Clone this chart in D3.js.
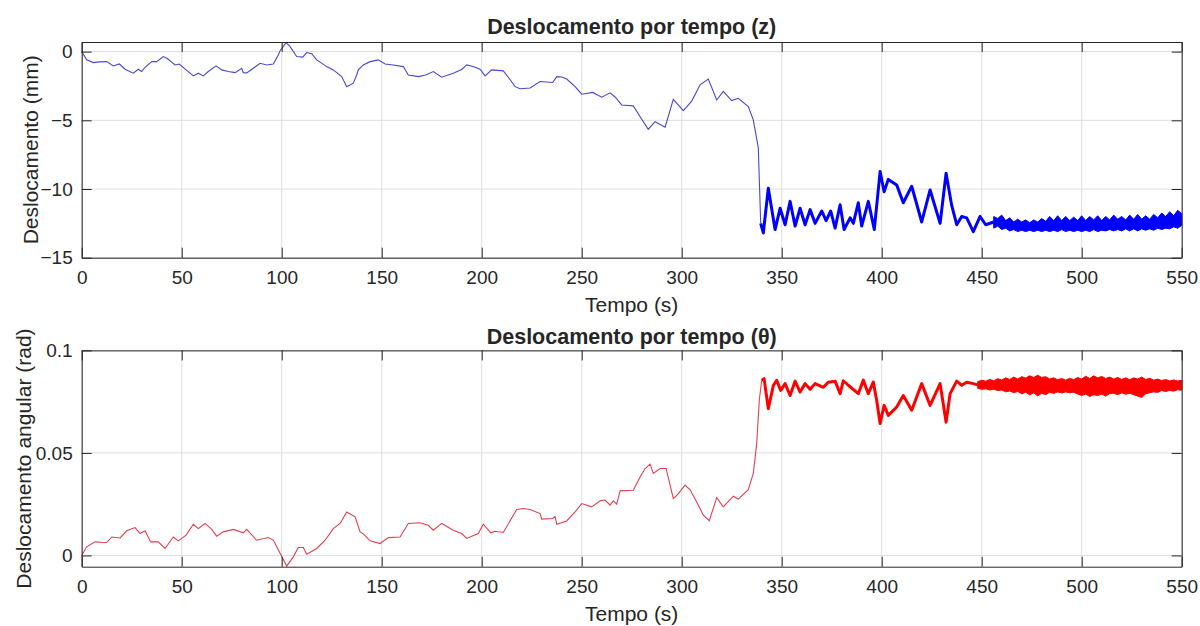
<!DOCTYPE html>
<html>
<head>
<meta charset="utf-8">
<script src="https://cdn.jsdelivr.net/npm/d3@7"></script>
<style>
  body { margin: 0; background: #fff; }
  text { font-family: "Liberation Sans", Arial, sans-serif; fill: #262626; }
</style>
</head>
<body>
<script>
var width = 1200
var height = 626

// x ticks shared by both panels
var xTicks = [0, 50, 100, 150, 200, 250, 300, 350, 400, 450, 500, 550]

// ---- panel 1 : z (mm) ----
// slow drift part, thin line
var zT = [0, 2.5, 5.8, 9, 12.5, 15.8, 18.8, 21.7, 25.8, 28.3, 30, 31.7, 35, 37.5, 40.8, 42.8, 46.7, 48.8, 52.2, 55.8, 58.3, 60.8, 63.3, 67.2, 70, 73.3, 76.7, 80, 80.8, 82.5, 85.8, 89.2, 92.5, 95.8, 98.3, 99.2, 102.2, 104.2, 107.5, 110.5, 112.5, 115, 117.5, 122.5, 125.8, 130, 132.5, 135.8, 137.5, 138.3, 140.8, 144.2, 148.3, 151.7, 155.8, 160.8, 163.3, 168.3, 172, 175.8, 180, 185.8, 190, 192.5, 196, 199.2, 201.7, 205, 210.8, 213.5, 216.7, 219.2, 224.2, 229.2, 235.5, 237.5, 240, 242.5, 246.7, 250, 255.5, 260, 264.2, 266.7, 270, 275.8, 280, 283.3, 286.7, 291.7, 295.8, 300.8, 305, 309.2, 313.3, 317.5, 320.8, 325, 328.3, 333.3, 335.8, 338.3, 339.5]
var zV = [0, -0.6, -0.8, -0.75, -0.73, -1.04, -0.9, -1.28, -1.57, -1.28, -1.45, -1.14, -0.73, -0.73, -0.36, -0.5, -0.97, -0.9, -1.33, -1.77, -1.57, -1.77, -1.45, -1.04, -1.33, -1.45, -1.53, -1.21, -1.53, -1.55, -1.21, -0.85, -0.97, -0.9, -0.24, 0.07, 0.65, 0.36, -0.36, -0.4, -0.07, -0.15, -0.6, -1.09, -1.33, -1.82, -2.55, -2.3, -1.7, -1.33, -0.97, -0.73, -0.6, -0.9, -0.97, -1.09, -1.7, -1.82, -1.7, -1.45, -1.86, -1.57, -1.3, -0.97, -1.1, -1.28, -1.77, -1.33, -1.4, -1.9, -2.55, -2.7, -2.65, -2.18, -2.25, -1.82, -1.85, -2.0, -2.55, -3.1, -2.97, -3.32, -3.0, -3.3, -3.88, -3.95, -4.92, -5.65, -5.1, -5.5, -3.47, -4.29, -3.6, -2.42, -2.0, -3.52, -2.9, -3.56, -3.4, -4.0, -4.97, -7.0, -12.5]
// oscillating part, thick line
var zT2 = [339.5, 340.8, 343.3, 346.7, 349.2, 351.7, 354.2, 356.7, 359.2, 361.7, 364.2, 366.7, 370, 372.2, 374.5, 376.7, 379.2, 381.2, 384.2, 385.8, 388.3, 390, 393.3, 396.3, 399.2, 401.2, 403.3, 407.5, 410.8, 415, 420, 424.2, 429.2, 432.2, 435, 437.5, 440, 442.5, 445.8, 449.2, 452, 456]
var zV2 = [-12.5, -13.2, -9.95, -12.95, -11.4, -12.6, -10.9, -12.7, -11.4, -12.6, -11.5, -12.5, -11.6, -12.3, -11.6, -12.85, -11.15, -12.95, -12.1, -12.5, -11.0, -12.7, -10.9, -12.95, -8.73, -10.2, -9.3, -9.7, -11.0, -9.8, -12.4, -10.07, -12.5, -8.85, -11.2, -12.6, -12.0, -12.1, -13.1, -12.0, -12.6, -12.4]
// high frequency band, upper and lower envelope
var zBandT = [456, 458, 460, 462, 464, 466, 468, 470, 472, 474, 476, 478, 480, 482, 484, 486, 488, 490, 492, 494, 496, 498, 500, 502, 504, 506, 508, 510, 512, 514, 516, 518, 520, 522, 524, 526, 528, 530, 532, 534, 536, 538, 540, 542, 544, 546, 548, 550]
var zHi = [-12.0, -12.15, -11.9, -12.3, -12.1, -12.4, -12.2, -12.4, -12.25, -12.45, -12.25, -12.4, -12.15, -12.35, -12.0, -12.3, -11.95, -12.3, -12.0, -12.3, -12.05, -12.3, -11.95, -12.3, -12.0, -12.25, -11.95, -12.3, -12.0, -12.25, -11.9, -12.2, -12.0, -12.25, -11.9, -12.2, -11.85, -12.2, -11.95, -12.2, -11.85, -12.1, -11.75, -12.0, -11.65, -11.95, -11.55, -11.8]
var zLo = [-12.85, -12.7, -12.95, -12.85, -13.05, -12.95, -13.1, -13.0, -13.1, -13.0, -13.1, -13.0, -13.1, -13.0, -13.1, -13.0, -13.1, -12.95, -13.1, -13.0, -13.1, -13.0, -13.1, -13.0, -13.1, -12.95, -13.1, -13.0, -13.05, -12.95, -13.05, -12.95, -13.05, -12.9, -13.05, -12.9, -13.05, -12.9, -13.0, -12.9, -13.0, -12.85, -12.95, -12.85, -12.9, -12.75, -12.85, -12.65]
var zTicks = [-15, -10, -5, 0]

// ---- panel 2 : theta (rad) ----
var thT = [0, 2.5, 6.7, 9.5, 12.5, 15, 19.2, 22.5, 26.7, 29.2, 31.7, 34.5, 38.3, 41.7, 45.8, 48.3, 52.2, 55.8, 58.3, 61.7, 65, 67.5, 70.8, 75.8, 80.8, 82.5, 87.5, 93.3, 95.8, 99.2, 102.5, 105.8, 108.3, 110.8, 112.5, 117.5, 121.7, 125.8, 129.2, 132.5, 136.7, 139.2, 140.8, 144.2, 149.2, 153.3, 159.2, 163.3, 169.2, 173.3, 175.8, 180, 185.8, 190, 192.5, 198.3, 200.8, 204.5, 206.7, 210.8, 217.5, 220.8, 224.2, 229.2, 230, 235.5, 236.7, 237.5, 242.5, 246.7, 250, 255, 259.2, 261.7, 264.2, 265.8, 267.5, 269.2, 275.8, 279.2, 281.7, 284.2, 285.8, 289.2, 292.2, 295.8, 297.8, 301.7, 304.2, 307.5, 310.8, 313.8, 317.5, 320.8, 325.8, 328.3, 333.3, 335.8, 337.5, 338.8, 340]
var thV = [0, 0.0042, 0.0066, 0.0064, 0.0063, 0.009, 0.0085, 0.012, 0.0136, 0.0107, 0.012, 0.0066, 0.0066, 0.0034, 0.009, 0.0071, 0.0099, 0.0152, 0.0131, 0.0156, 0.0127, 0.0094, 0.0115, 0.0127, 0.011, 0.0127, 0.0074, 0.0087, 0.0075, 0.001, -0.0052, -0.0007, 0.0039, 0.0039, 0.0006, 0.0034, 0.0074, 0.0131, 0.0156, 0.0212, 0.0188, 0.0115, 0.0105, 0.0071, 0.0058, 0.0087, 0.009, 0.0156, 0.0159, 0.0147, 0.0123, 0.0156, 0.0123, 0.0107, 0.0083, 0.0107, 0.0152, 0.011, 0.0118, 0.0112, 0.0224, 0.0229, 0.0224, 0.0204, 0.0177, 0.018, 0.019, 0.0152, 0.0168, 0.0212, 0.0253, 0.0237, 0.0266, 0.027, 0.0245, 0.0266, 0.025, 0.0315, 0.0318, 0.0383, 0.0424, 0.0445, 0.04, 0.0424, 0.0424, 0.0278, 0.0295, 0.0343, 0.032, 0.0261, 0.0196, 0.0169, 0.0282, 0.0237, 0.0289, 0.0275, 0.0321, 0.04, 0.0545, 0.0757, 0.0854]
var thT2 = [340, 341.2, 343.3, 345.8, 347.5, 349.5, 351.7, 354.2, 356.7, 359.2, 361.7, 364.2, 366.7, 370.8, 373.3, 376.7, 379.2, 380.8, 383.3, 388.3, 390.8, 393.3, 395.8, 397.5, 399.2, 401.2, 403.3, 407.5, 410.8, 415, 420, 424.2, 429.2, 432.2, 434.2, 437.5, 440, 442.5, 445.8, 448]
var thV2 = [0.0854, 0.0862, 0.0716, 0.0829, 0.0854, 0.0805, 0.0838, 0.078, 0.085, 0.0797, 0.0838, 0.081, 0.0838, 0.082, 0.0845, 0.085, 0.0789, 0.0852, 0.083, 0.0789, 0.0855, 0.0789, 0.0846, 0.0756, 0.0643, 0.0732, 0.0683, 0.0724, 0.078, 0.0708, 0.0838, 0.0732, 0.0838, 0.065, 0.0789, 0.085, 0.083, 0.0845, 0.0838, 0.0832]
var thBandT = [448, 450, 452, 454, 456, 458, 460, 462, 464, 466, 468, 470, 472, 474, 476, 478, 480, 482, 484, 486, 488, 490, 492, 494, 496, 498, 500, 502, 504, 506, 508, 510, 512, 514, 516, 518, 520, 522, 524, 526, 528, 530, 532, 534, 536, 538, 540, 542, 544, 546, 548, 550]
var thHi = [0.0848, 0.0854, 0.085, 0.0858, 0.0852, 0.0862, 0.0856, 0.0866, 0.0858, 0.087, 0.086, 0.0872, 0.0865, 0.0876, 0.0868, 0.0879, 0.0868, 0.0872, 0.086, 0.0866, 0.0857, 0.0863, 0.0855, 0.0864, 0.0857, 0.0868, 0.086, 0.0874, 0.0863, 0.0876, 0.0866, 0.0873, 0.0863, 0.087, 0.086, 0.0868, 0.0858, 0.0866, 0.0857, 0.0866, 0.086, 0.087, 0.0858, 0.0864, 0.0855, 0.086, 0.0853, 0.0858, 0.0851, 0.0856, 0.0851, 0.0854]
var thLo = [0.0815, 0.081, 0.0813, 0.0807, 0.0811, 0.0804, 0.0807, 0.0798, 0.0802, 0.0794, 0.08, 0.0788, 0.0796, 0.0783, 0.0793, 0.0778, 0.0791, 0.0784, 0.0796, 0.079, 0.0798, 0.0792, 0.0798, 0.0793, 0.0796, 0.0787, 0.078, 0.0787, 0.0775, 0.0784, 0.078, 0.0787, 0.0777, 0.0789, 0.0791, 0.0784, 0.0793, 0.0786, 0.0791, 0.0784, 0.0777, 0.077, 0.0789, 0.0793, 0.0798, 0.0795, 0.0805, 0.0799, 0.0805, 0.0801, 0.0808, 0.0806]
var thTicks = [0, 0.05, 0.1]

const svg = d3.select('body').append('svg')
  .attr('width', width)
  .attr('height', height)

var x = d3.scaleLinear().domain([0, 550]).range([81.7, 1181.7])

function zip(a, b) { return a.map((t, i) => [t, b[i]]) }
function zip3(a, b, c) { return a.map((t, i) => [t, b[i], c[i]]) }

function panel(p) {
  var y = d3.scaleLinear().domain(p.ydom).range(p.yrange)
  var top = p.yrange[1], bot = p.yrange[0]
  var g = svg.append('g')

  // grid
  g.selectAll('.gx').data(xTicks).enter().append('line')
    .attr('x1', d => x(d)).attr('x2', d => x(d))
    .attr('y1', top).attr('y2', bot)
    .style('stroke', '#dedede').style('stroke-width', 1)
  g.selectAll('.gy').data(p.yticks).enter().append('line')
    .attr('x1', x(0)).attr('x2', x(550))
    .attr('y1', d => y(d)).attr('y2', d => y(d))
    .style('stroke', '#dedede').style('stroke-width', 1)

  // data
  var line = d3.line().x(d => x(d[0])).y(d => y(d[1]))
  var area = d3.area().x(d => x(d[0])).y0(d => y(d[2])).y1(d => y(d[1]))
  var marks = g.append('g')
  marks.append('path').datum(zip(p.t1, p.v1)).attr('d', line)
    .style('fill', 'none').style('stroke', p.thin).style('stroke-width', 1.1)
  marks.append('path').datum(zip(p.t2, p.v2)).attr('d', line)
    .style('fill', 'none').style('stroke', p.color).style('stroke-width', 3)
    .style('stroke-linejoin', 'round')
  marks.append('path').datum(zip3(p.tb, p.hi, p.lo)).attr('d', area)
    .style('fill', p.color).style('stroke', p.color).style('stroke-width', 1)

  // axes, ticks inside, box on
  g.append('g').attr('transform', 'translate(0,' + bot + ')')
    .call(d3.axisBottom(x).tickValues(xTicks).tickSizeInner(-10).tickSizeOuter(0).tickPadding(13))
  g.append('g').attr('transform', 'translate(0,' + top + ')')
    .call(d3.axisTop(x).tickValues(xTicks).tickSizeInner(-10).tickSizeOuter(0).tickFormat(''))
  g.append('g').attr('transform', 'translate(' + x(0) + ',0)')
    .call(d3.axisLeft(y).tickValues(p.yticks).tickSizeInner(-10).tickSizeOuter(0).tickPadding(9).tickFormat(p.fmt))
  g.append('g').attr('transform', 'translate(' + x(550) + ',0)')
    .call(d3.axisRight(y).tickValues(p.yticks).tickSizeInner(-10).tickSizeOuter(0).tickFormat(''))
  g.selectAll('.domain').style('stroke', '#262626').style('stroke-width', 1)
  g.selectAll('.tick line').style('stroke', '#262626').style('stroke-width', 1)
  g.selectAll('.tick text').style('font-size', '19px').style('fill', '#262626')
    .style('font-family', '"Liberation Sans", Arial, sans-serif')

  // titles and labels
  g.append('text').attr('x', 631.7).attr('y', top - p.tdy)
    .attr('text-anchor', 'middle').style('font-size', '21.5px').style('font-weight', 'bold')
    .text(p.title)
  g.append('text').attr('x', 631.7).attr('y', bot + 54)
    .attr('text-anchor', 'middle').style('font-size', '21px')
    .text('Tempo (s)')
  g.append('text')
    .attr('transform', 'translate(' + p.ylx + ',' + ((top + bot) / 2) + ') rotate(-90)')
    .attr('text-anchor', 'middle').style('font-size', '21px')
    .text(p.ylabel)
}

panel({
  ydom: [-15, 0.7], yrange: [257.7, 42], yticks: zTicks, fmt: d3.format('d'),
  t1: zT, v1: zV, t2: zT2, v2: zV2, tb: zBandT, hi: zHi, lo: zLo,
  color: '#0000ff', thin: '#4848d0', tdy: 8,
  title: 'Deslocamento por tempo (z)', ylabel: 'Deslocamento (mm)', ylx: 38
})

panel({
  ydom: [-0.0055, 0.1], yrange: [566.7, 350.4], yticks: thTicks, fmt: d => d === 0 ? '0' : String(d),
  t1: thT, v1: thV, t2: thT2, v2: thV2, tb: thBandT, hi: thHi, lo: thLo,
  color: '#ff0000', thin: '#e04050', tdy: 6,
  title: 'Deslocamento por tempo (θ)', ylabel: 'Deslocamento angular (rad)', ylx: 31
})
</script>
</body>
</html>
